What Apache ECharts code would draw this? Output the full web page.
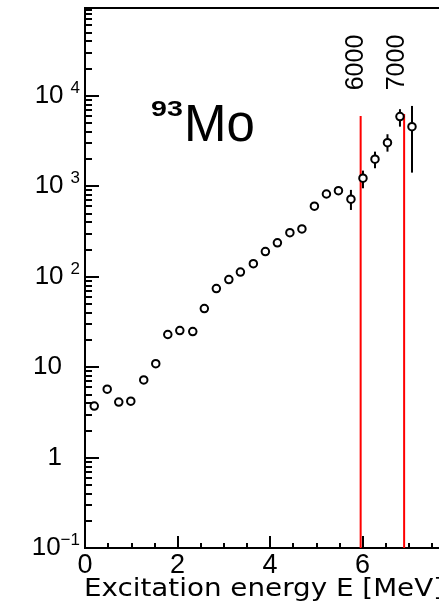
<!DOCTYPE html>
<html>
<head>
<meta charset="utf-8">
<script src="https://cdn.jsdelivr.net/npm/echarts@6/dist/echarts.min.js"></script>
<style>
html,body{margin:0;padding:0;background:#fff;overflow:hidden;}
#c{width:439px;height:612px;}
</style>
</head>
<body>
<div id="c"></div>
<script>
// ---- data ----
const energy = [0.20,0.48,0.73,0.99,1.27,1.53,1.79,2.05,2.33,2.58,2.84,3.11,3.36,3.64,3.90,4.16,4.43,4.69,4.96,5.22,5.48,5.75,6.01,6.27,6.54,6.81,7.07];
const counts = [3.7,5.7,4.1,4.2,7.2,10.9,22.9,25.3,24.7,44.3,73.6,92.7,112,139,189,236,306,336,600,818,891,716,1222,1982,3022,5860,4540];
const errLow  = [null,null,null,null,null,null,null,null,null,null,null,null,null,null,null,null,null,null,null,null,null,545,946,1575,2404,4540,1409];
const errHigh = [null,null,null,null,null,null,null,null,null,null,null,null,null,null,null,null,null,null,null,null,null,908,1483,2404,3743,7080,7690];
const markEnergy = [5.96, 6.90];
const markTop = [5960, 6280];
const markLabel = ['6000', '7000'];
const yMajorTicks = [0.1, 1, 10, 100, 1000, 10000];
const yMinorTicks = [];
for (let e = -1; e <= 4; e++) for (let k = 2; k <= 9; k++) yMinorTicks.push(+(k * Math.pow(10, e)).toPrecision(3));
const xTitle = 'Excitation energy E [MeV]';
const nucleusMass = '93';
const nucleusName = 'Mo';

const yMin = 0.1, yMax = 93000;

const chart = echarts.init(document.getElementById('c'), null, {renderer: 'canvas'});

// measure title to stretch it like the reference font
const cv = document.createElement('canvas').getContext('2d');
cv.font = '24px "DejaVu Sans"';
const titleW = cv.measureText(xTitle).width;
const titleScale = 360 / titleW;

const points = energy.map((e, i) => [e, counts[i]]);
const errData = [];
energy.forEach((e, i) => { if (errLow[i] != null) errData.push([e, errLow[i], errHigh[i]]); });
const markData = markEnergy.map((e, i) => [e, markTop[i], markLabel[i]]);

function yLabel(v) {
  const e = Math.round(Math.log10(v));
  if (e === 0) return '{n|1}{pad| }';
  if (e === 1) return '{n|10}{pad| }';
  if (e < 0) return '{n|10}{sn|\u2212' + (-e) + '}';
  return '{n|10}{s|' + e + '}';
}

const option = {
  animation: false,
  backgroundColor: '#fff',
  grid: {left: 85, top: 8, right: -16, bottom: 64, outerBoundsMode: 'none', containLabel: false,
         show: true, borderColor: '#000', borderWidth: 2, backgroundColor: 'transparent'},
  xAxis: {
    type: 'value', min: 0, max: 8, interval: 2,
    axisLine: {lineStyle: {color: '#000', width: 2}},
    axisTick: {inside: true, length: 12, lineStyle: {color: '#000', width: 2}},
    minorTick: {show: true, splitNumber: 4, length: 5, lineStyle: {color: '#000', width: 2}},
    splitLine: {show: false},
    axisLabel: {color: '#000', fontSize: 27, fontFamily: 'Liberation Sans', margin: 4}
  },
  yAxis: [{
    type: 'log', min: yMin, max: yMax, logBase: 10,
    axisLine: {lineStyle: {color: '#000', width: 2}},
    axisTick: {inside: true, length: 14, lineStyle: {color: '#000', width: 2}, customValues: yMajorTicks},
    splitLine: {show: false},
    minorTick: {show: false},
    axisLabel: {
      customValues: yMajorTicks, margin: 5, formatter: yLabel, color: '#000',
      rich: {
        n: {fontSize: 26, fontFamily: 'Liberation Sans', color: '#000', lineHeight: 32},
        pad: {width: 18, fontSize: 26},
        s: {fontSize: 17, fontFamily: 'Liberation Sans', color: '#000', verticalAlign: 'top', lineHeight: 17, padding: [0, 0, 0, 7]},
        sn: {fontSize: 17, fontFamily: 'Liberation Sans', color: '#000', verticalAlign: 'top', lineHeight: 17, padding: [0, 0, 0, 0]}
      }
    }
  }, {
    type: 'log', min: yMin, max: yMax, logBase: 10, position: 'left',
    axisLine: {show: false},
    axisTick: {inside: true, length: 7, lineStyle: {color: '#000', width: 2}, customValues: yMinorTicks},
    axisLabel: {show: false},
    splitLine: {show: false}
  }],
  graphic: [
    {type: 'text', x: 151, y: 110, scaleX: 1.3, style: {text: nucleusMass, font: 'bold 22px "Liberation Sans"', fill: '#000', align: 'left', verticalAlign: 'middle'}},
    {type: 'text', x: 184, y: 127, style: {text: nucleusName, font: '51px "Liberation Sans"', fill: '#000', align: 'left', verticalAlign: 'middle'}},
    {type: 'text', x: 84, y: 590, scaleX: titleScale, style: {text: xTitle, font: '24px "DejaVu Sans"', fill: '#000', align: 'left', verticalAlign: 'middle'}}
  ],
  series: [
    {
      type: 'custom', name: 'marks', data: markData, z: 2, clip: false,
      renderItem: function (params, api) {
        const x = api.value(0), top = api.value(1);
        const p0 = api.coord([x, yMin]);
        const p1 = api.coord([x, top]);
        const offs = params.dataIndex === 0 ? -5 : -7;
        return {
          type: 'group',
          children: [
            {type: 'line', shape: {x1: p0[0], y1: p0[1], x2: p1[0], y2: p1[1]}, style: {stroke: '#ff0000', lineWidth: 2}},
            {type: 'text', x: p1[0] + offs, y: 62.5, rotation: Math.PI / 2,
             style: {text: markLabel[params.dataIndex], font: '25px "Liberation Sans"', fill: '#000', align: 'center', verticalAlign: 'middle'}}
          ]
        };
      }
    },
    {
      type: 'custom', name: 'errors', data: errData, z: 3,
      renderItem: function (params, api) {
        const x = api.value(0);
        const a = api.coord([x, api.value(1)]);
        const b = api.coord([x, api.value(2)]);
        return {type: 'line', shape: {x1: a[0], y1: a[1], x2: b[0], y2: b[1]}, style: {stroke: '#000', lineWidth: 2}};
      }
    },
    {
      type: 'scatter', name: 'data', data: points, z: 4,
      symbol: 'circle', symbolSize: 7.5,
      itemStyle: {color: '#fff', borderColor: '#000', borderWidth: 2, opacity: 1}
    }
  ]
};
chart.setOption(option);
</script>
</body>
</html>
